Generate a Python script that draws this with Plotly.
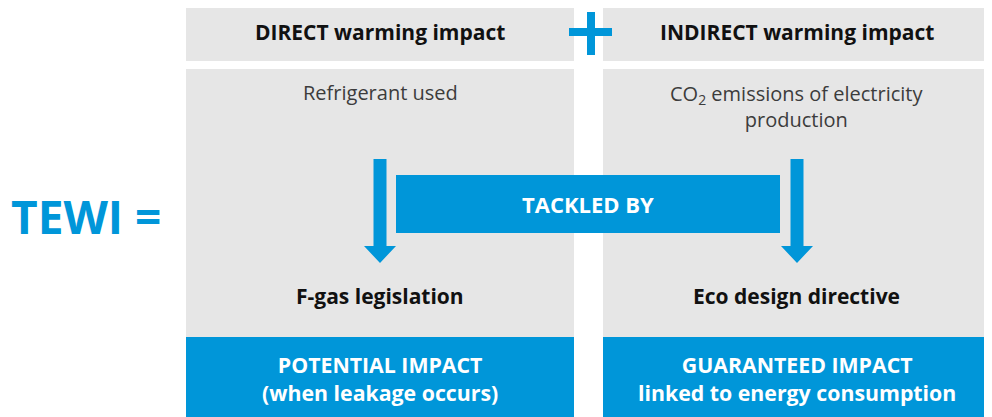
import plotly.graph_objects as go

BLUE = "#0096D9"
GREY = "#E6E6E6"
FONT = "Open Sans"

# Layout blocks (pixel coordinates of the diagram)
columns_x = [(186, 574), (603, 990)]
header_y = (7, 61)
body_y = (69, 337)
impact_y = (337, 425)

header_labels = ["DIRECT warming impact", "INDIRECT warming impact"]
source_labels = ["Refrigerant used", "CO<sub>2</sub> emissions of electricity<br>production"]
policy_labels = ["F-gas legislation", "Eco design directive"]
impact_labels = ["POTENTIAL IMPACT<br>(when leakage occurs)",
                 "GUARANTEED IMPACT<br>linked to energy consumption"]
center_label = "TACKLED BY"
lhs_label = "TEWI ="
arrow_x = [380, 797]

fig = go.Figure()
shapes = []
annotations = []

for i, (x0, x1) in enumerate(columns_x):
    cx = (x0 + x1) / 2
    shapes.append(dict(type="rect", x0=x0, x1=x1, y0=header_y[0], y1=header_y[1],
                       fillcolor=GREY, line_width=0, layer="below"))
    shapes.append(dict(type="rect", x0=x0, x1=x1, y0=body_y[0], y1=body_y[1],
                       fillcolor=GREY, line_width=0, layer="below"))
    shapes.append(dict(type="rect", x0=x0, x1=x1, y0=impact_y[0], y1=impact_y[1],
                       fillcolor=BLUE, line_width=0, layer="below"))
    annotations.append(dict(x=cx, y=32, text="<b>" + header_labels[i] + "</b>",
                            showarrow=False, font=dict(family=FONT, size=21, color="#111"),
                            xanchor="center", yanchor="middle"))
    annotations.append(dict(x=cx, y=92 if i == 0 else 106, text=source_labels[i],
                            showarrow=False, font=dict(family=FONT, size=20, color="#3c3c3c"),
                            xanchor="center", yanchor="middle"))
    annotations.append(dict(x=cx, y=296, text="<b>" + policy_labels[i] + "</b>",
                            showarrow=False, font=dict(family=FONT, size=21, color="#111"),
                            xanchor="center", yanchor="middle"))
    annotations.append(dict(x=cx, y=378, text="<b>" + impact_labels[i] + "</b>",
                            showarrow=False, font=dict(family=FONT, size=21.3, color="white"),
                            xanchor="center", yanchor="middle"))

# Arrows
for ax in arrow_x:
    hw, sw = 16, 6.5
    path = (f"M {ax-sw},159 L {ax+sw},159 L {ax+sw},246 L {ax+hw},246 "
            f"L {ax},263 L {ax-hw},246 L {ax-sw},246 Z")
    shapes.append(dict(type="path", path=path, fillcolor=BLUE, line_width=0))

# Tackled by box
shapes.append(dict(type="rect", x0=396, x1=780, y0=175, y1=233, fillcolor=BLUE, line_width=0))
annotations.append(dict(x=588, y=204, text="<b>" + center_label + "</b>", showarrow=False,
                        font=dict(family=FONT, size=22, color="white"),
                        xanchor="center", yanchor="middle"))

# Plus sign
shapes.append(dict(type="rect", x0=569, x1=612, y0=28, y1=36, fillcolor=BLUE, line_width=0))
shapes.append(dict(type="rect", x0=587, x1=595, y0=12, y1=55, fillcolor=BLUE, line_width=0))

# TEWI =
annotations.append(dict(x=9, y=216, text="<b>" + lhs_label + "</b>", showarrow=False,
                        font=dict(family=FONT, size=46, color=BLUE),
                        xanchor="left", yanchor="middle"))

# The page body has an 8px margin, so the visible window starts 8px before the figure
fig.update_layout(
    width=992, height=417,
    margin=dict(l=0, r=0, t=0, b=0),
    paper_bgcolor="white", plot_bgcolor="white",
    xaxis=dict(range=[8, 1000], visible=False, fixedrange=True),
    yaxis=dict(range=[425, 8], visible=False, fixedrange=True),
    shapes=shapes, annotations=annotations, showlegend=False,
)

fig.write_html("out.html")
